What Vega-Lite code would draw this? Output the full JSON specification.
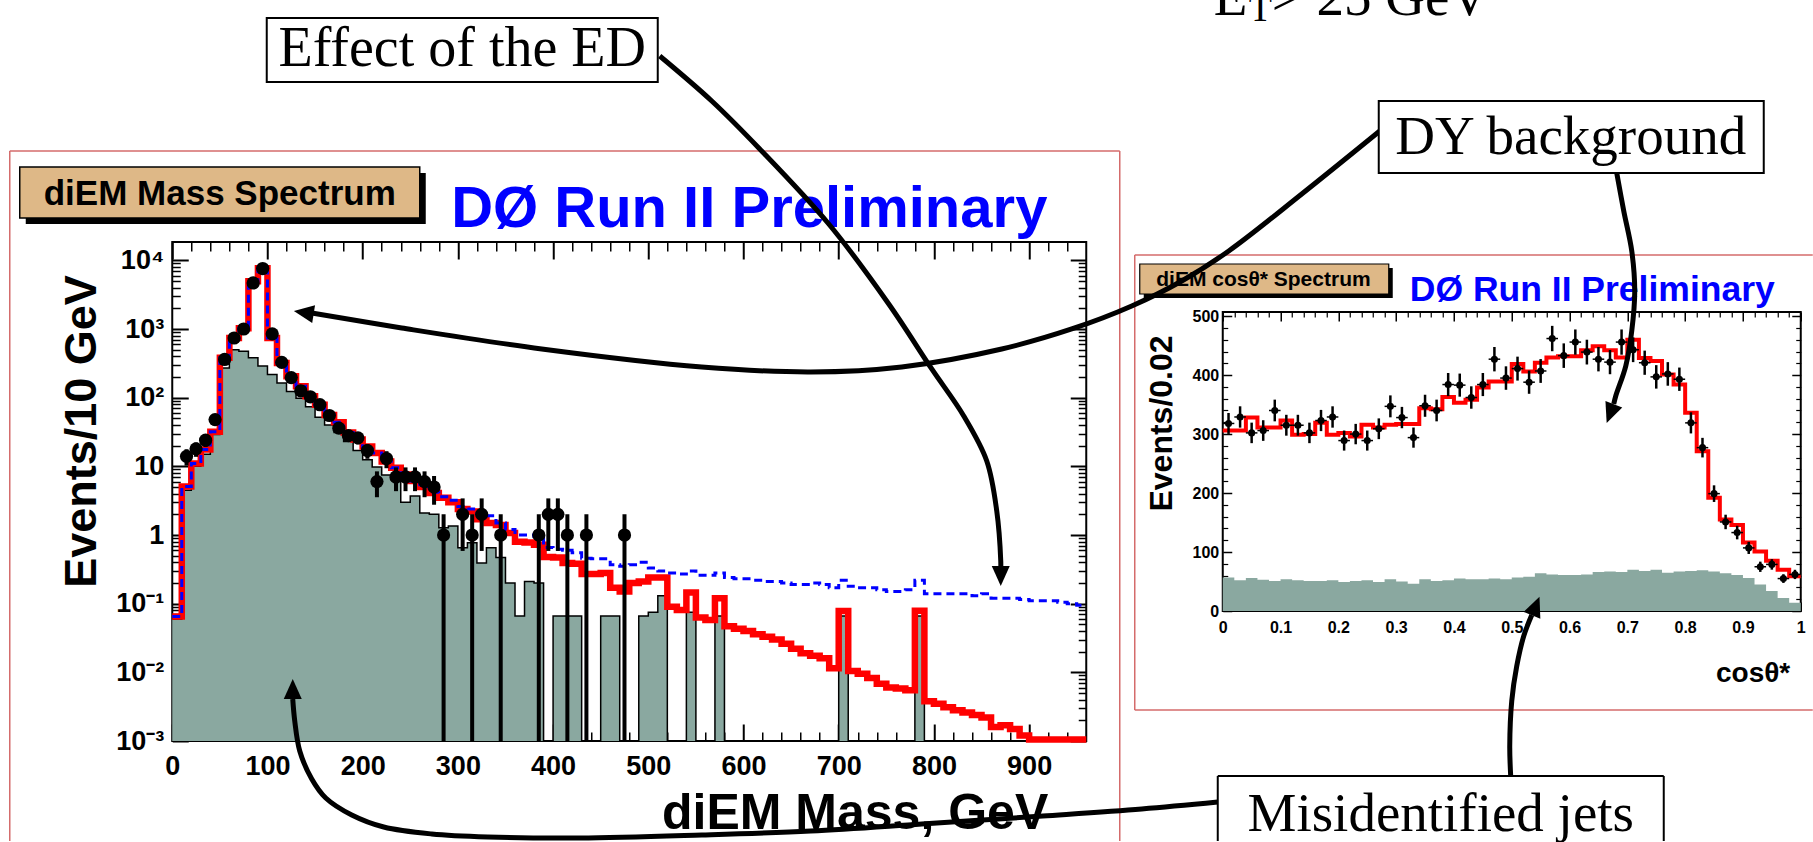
{
"$schema": "https://vega.github.io/schema/vega-lite/v6.json",
"padding": {"left": 7.25, "top": -30, "right": 0, "bottom": 0},
"bounds": "flush",
"spacing": 136.5,
"config": {
  "view": {"stroke": "black", "strokeWidth": 2},
  "font": "Liberation Sans",
  "axis": {"grid": false, "domain": false, "labelFont": "Liberation Sans", "labelFontWeight": "bold", "labelColor": "black", "titleFont": "Liberation Sans", "titleFontWeight": "bold", "titleColor": "black", "tickColor": "black", "labelFlush": false, "labelOverlap": false}
},
"datasets": {
"mass": [
{"m":0,"sm":0.065,"ed":0.065,"jets":0.06},
{"m":10,"sm":5.1,"ed":5.1,"jets":4.5},
{"m":20,"sm":11,"ed":11,"jets":10},
{"m":30,"sm":17.6,"ed":17.6,"jets":15},
{"m":40,"sm":32,"ed":32,"jets":29},
{"m":50,"sm":380,"ed":380,"jets":270},
{"m":60,"sm":740,"ed":740,"jets":500},
{"m":70,"sm":1030,"ed":1030,"jets":475},
{"m":80,"sm":4950,"ed":4950,"jets":380},
{"m":90,"sm":7700,"ed":7700,"jets":290},
{"m":100,"sm":740,"ed":740,"jets":217},
{"m":110,"sm":320,"ed":320,"jets":163},
{"m":120,"sm":205,"ed":205,"jets":123},
{"m":130,"sm":147,"ed":147,"jets":98},
{"m":140,"sm":105,"ed":105,"jets":74},
{"m":150,"sm":79,"ed":79,"jets":52},
{"m":160,"sm":56,"ed":56,"jets":40},
{"m":170,"sm":44,"ed":44,"jets":31},
{"m":180,"sm":31,"ed":31,"jets":23},
{"m":190,"sm":24.5,"ed":24.5,"jets":17},
{"m":200,"sm":19.5,"ed":19.5,"jets":12.5},
{"m":210,"sm":15.7,"ed":15.7,"jets":9.8},
{"m":220,"sm":11.8,"ed":11.8,"jets":7.5},
{"m":230,"sm":9.5,"ed":9.5,"jets":6.4},
{"m":240,"sm":7.6,"ed":7.6,"jets":3.0},
{"m":250,"sm":6.1,"ed":6.1,"jets":3.7},
{"m":260,"sm":5.0,"ed":5.1,"jets":2.1},
{"m":270,"sm":4.1,"ed":4.2,"jets":2.0},
{"m":280,"sm":3.5,"ed":3.6,"jets":1.28},
{"m":290,"sm":3.0,"ed":3.2,"jets":1.35},
{"m":300,"sm":2.4,"ed":2.6,"jets":0.65},
{"m":310,"sm":2.2,"ed":2.4,"jets":0.77},
{"m":320,"sm":1.7,"ed":2.0,"jets":0.39},
{"m":330,"sm":1.5,"ed":1.9,"jets":0.65},
{"m":340,"sm":1.4,"ed":1.5,"jets":0.47},
{"m":350,"sm":1.07,"ed":1.2,"jets":0.2},
{"m":360,"sm":0.8,"ed":1.0,"jets":0.066},
{"m":370,"sm":0.78,"ed":1.0,"jets":0.21},
{"m":380,"sm":0.72,"ed":0.95,"jets":0.2},
{"m":390,"sm":0.48,"ed":0.66,"jets":0},
{"m":400,"sm":0.47,"ed":0.62,"jets":0.066},
{"m":410,"sm":0.39,"ed":0.6,"jets":0.066},
{"m":420,"sm":0.38,"ed":0.55,"jets":0.066},
{"m":430,"sm":0.27,"ed":0.46,"jets":0},
{"m":440,"sm":0.27,"ed":0.45,"jets":0},
{"m":450,"sm":0.28,"ed":0.45,"jets":0.066},
{"m":460,"sm":0.17,"ed":0.37,"jets":0.066},
{"m":470,"sm":0.15,"ed":0.35,"jets":0},
{"m":480,"sm":0.2,"ed":0.37,"jets":0},
{"m":490,"sm":0.21,"ed":0.4,"jets":0.066},
{"m":500,"sm":0.24,"ed":0.33,"jets":0.075},
{"m":510,"sm":0.24,"ed":0.3,"jets":0.13},
{"m":520,"sm":0.09,"ed":0.28,"jets":0},
{"m":530,"sm":0.081,"ed":0.27,"jets":0},
{"m":540,"sm":0.145,"ed":0.3,"jets":0.075},
{"m":550,"sm":0.063,"ed":0.26,"jets":0},
{"m":560,"sm":0.058,"ed":0.26,"jets":0},
{"m":570,"sm":0.12,"ed":0.28,"jets":0.066},
{"m":580,"sm":0.047,"ed":0.24,"jets":0},
{"m":590,"sm":0.043,"ed":0.23,"jets":0},
{"m":600,"sm":0.04,"ed":0.23,"jets":0},
{"m":610,"sm":0.036,"ed":0.22,"jets":0},
{"m":620,"sm":0.033,"ed":0.21,"jets":0},
{"m":630,"sm":0.03,"ed":0.21,"jets":0},
{"m":640,"sm":0.026,"ed":0.2,"jets":0},
{"m":650,"sm":0.022,"ed":0.19,"jets":0},
{"m":660,"sm":0.019,"ed":0.19,"jets":0},
{"m":670,"sm":0.0175,"ed":0.2,"jets":0},
{"m":680,"sm":0.016,"ed":0.19,"jets":0},
{"m":690,"sm":0.0115,"ed":0.17,"jets":0},
{"m":700,"sm":0.078,"ed":0.22,"jets":0.066},
{"m":710,"sm":0.0105,"ed":0.18,"jets":0},
{"m":720,"sm":0.0095,"ed":0.17,"jets":0},
{"m":730,"sm":0.0083,"ed":0.17,"jets":0},
{"m":740,"sm":0.0068,"ed":0.16,"jets":0},
{"m":750,"sm":0.006,"ed":0.15,"jets":0},
{"m":760,"sm":0.0058,"ed":0.15,"jets":0},
{"m":770,"sm":0.0055,"ed":0.16,"jets":0},
{"m":780,"sm":0.079,"ed":0.22,"jets":0.066},
{"m":790,"sm":0.0038,"ed":0.14,"jets":0},
{"m":800,"sm":0.0035,"ed":0.14,"jets":0},
{"m":810,"sm":0.0031,"ed":0.14,"jets":0},
{"m":820,"sm":0.0028,"ed":0.14,"jets":0},
{"m":830,"sm":0.0026,"ed":0.14,"jets":0},
{"m":840,"sm":0.0024,"ed":0.13,"jets":0},
{"m":850,"sm":0.0022,"ed":0.14,"jets":0},
{"m":860,"sm":0.0016,"ed":0.12,"jets":0},
{"m":870,"sm":0.0017,"ed":0.12,"jets":0},
{"m":880,"sm":0.0015,"ed":0.12,"jets":0},
{"m":890,"sm":0.0012,"ed":0.115,"jets":0},
{"m":900,"sm":0.00105,"ed":0.11,"jets":0},
{"m":910,"sm":0.00105,"ed":0.11,"jets":0},
{"m":920,"sm":0.00105,"ed":0.11,"jets":0},
{"m":930,"sm":0.00105,"ed":0.105,"jets":0},
{"m":940,"sm":0.00105,"ed":0.1,"jets":0},
{"m":950,"sm":0.00105,"ed":0.095,"jets":0},
{"m":960,"sm":0.00105,"ed":0.095,"jets":0}
],
"massdata": [
{"m":15,"n":14,"lo":10.26,"hi":17.74},
{"m":25,"n":18,"lo":13.76,"hi":22.24},
{"m":35,"n":24,"lo":19.1,"hi":28.9},
{"m":45,"n":48,"lo":41.07,"hi":54.93},
{"m":55,"n":360,"lo":341,"hi":379},
{"m":65,"n":740,"lo":712.8,"hi":767.2},
{"m":75,"n":1000,"lo":968.4,"hi":1031.6},
{"m":85,"n":4680,"lo":4611.6,"hi":4748.4},
{"m":95,"n":7600,"lo":7512.8,"hi":7687.2},
{"m":105,"n":850,"lo":820.8,"hi":879.2},
{"m":115,"n":327,"lo":308.9,"hi":345.1},
{"m":125,"n":196,"lo":182,"hi":210},
{"m":135,"n":126,"lo":114.8,"hi":137.2},
{"m":145,"n":103,"lo":92.9,"hi":113.1},
{"m":155,"n":79,"lo":70.1,"hi":87.9},
{"m":165,"n":55,"lo":47.6,"hi":62.4},
{"m":175,"n":36,"lo":30,"hi":42},
{"m":185,"n":28,"lo":22.7,"hi":33.3},
{"m":195,"n":26,"lo":20.9,"hi":31.1},
{"m":205,"n":17,"lo":12.88,"hi":21.12},
{"m":215,"n":6,"lo":3.55,"hi":8.45},
{"m":225,"n":13,"lo":9.39,"hi":16.61},
{"m":235,"n":7,"lo":4.35,"hi":9.65},
{"m":245,"n":7,"lo":4.35,"hi":9.65},
{"m":255,"n":7,"lo":4.35,"hi":9.65},
{"m":265,"n":6,"lo":3.55,"hi":8.45},
{"m":275,"n":5,"lo":2.76,"hi":7.24},
{"m":285,"n":1,"lo":0,"hi":2},
{"m":305,"n":2,"lo":0.586,"hi":3.414},
{"m":315,"n":1,"lo":0,"hi":2},
{"m":325,"n":2,"lo":0.586,"hi":3.414},
{"m":345,"n":1,"lo":0,"hi":2},
{"m":385,"n":1,"lo":0,"hi":2},
{"m":395,"n":2,"lo":0.586,"hi":3.414},
{"m":405,"n":2,"lo":0.586,"hi":3.414},
{"m":415,"n":1,"lo":0,"hi":2},
{"m":435,"n":1,"lo":0,"hi":2},
{"m":475,"n":1,"lo":0,"hi":2}
],
"cos": [
{"c":0,"sm":306,"jets":57},{"c":0.02,"sm":306,"jets":52},{"c":0.04,"sm":328,"jets":56},{"c":0.06,"sm":311,"jets":53},{"c":0.08,"sm":311,"jets":51},
{"c":0.1,"sm":323,"jets":54},{"c":0.12,"sm":299,"jets":52},{"c":0.14,"sm":300,"jets":51},{"c":0.16,"sm":319,"jets":51},{"c":0.18,"sm":299,"jets":52},
{"c":0.2,"sm":302,"jets":49},{"c":0.22,"sm":296,"jets":51},{"c":0.24,"sm":316,"jets":52},{"c":0.26,"sm":311,"jets":49},{"c":0.28,"sm":316,"jets":54},
{"c":0.3,"sm":317,"jets":50},{"c":0.32,"sm":317,"jets":46},{"c":0.34,"sm":344,"jets":54},{"c":0.36,"sm":342,"jets":51},{"c":0.38,"sm":363,"jets":52},
{"c":0.4,"sm":353,"jets":55},{"c":0.42,"sm":358,"jets":54},{"c":0.44,"sm":379,"jets":54},{"c":0.46,"sm":389,"jets":55},{"c":0.48,"sm":389,"jets":54},
{"c":0.5,"sm":419,"jets":57},{"c":0.52,"sm":406,"jets":58},{"c":0.54,"sm":421,"jets":64},{"c":0.56,"sm":430,"jets":62},{"c":0.58,"sm":432,"jets":61},
{"c":0.6,"sm":432,"jets":61},{"c":0.62,"sm":442,"jets":62},{"c":0.64,"sm":449,"jets":66},{"c":0.66,"sm":442,"jets":67},{"c":0.68,"sm":430,"jets":66},
{"c":0.7,"sm":460,"jets":70},{"c":0.72,"sm":429,"jets":68},{"c":0.74,"sm":424,"jets":70},{"c":0.76,"sm":401,"jets":65},{"c":0.78,"sm":384,"jets":67},
{"c":0.8,"sm":336,"jets":68},{"c":0.82,"sm":271,"jets":69},{"c":0.84,"sm":192,"jets":67},{"c":0.86,"sm":155,"jets":64},{"c":0.88,"sm":146,"jets":61},
{"c":0.9,"sm":116,"jets":56},{"c":0.92,"sm":101,"jets":45},{"c":0.94,"sm":85,"jets":34},{"c":0.96,"sm":70,"jets":22},{"c":0.98,"sm":59,"jets":14},
{"c":1.0,"sm":59,"jets":14}
],
"cosdata": [
{"c":0.01,"c0":0,"c1":0.02,"n":318,"lo":300.2,"hi":335.8},
{"c":0.03,"c0":0.02,"c1":0.04,"n":329,"lo":310.9,"hi":347.1},
{"c":0.05,"c0":0.04,"c1":0.06,"n":302,"lo":284.6,"hi":319.4},
{"c":0.07,"c0":0.06,"c1":0.08,"n":306,"lo":288.5,"hi":323.5},
{"c":0.09,"c0":0.08,"c1":0.1,"n":340,"lo":321.6,"hi":358.4},
{"c":0.11,"c0":0.1,"c1":0.12,"n":315,"lo":297.3,"hi":332.7},
{"c":0.13,"c0":0.12,"c1":0.14,"n":315,"lo":297.3,"hi":332.7},
{"c":0.15,"c0":0.14,"c1":0.16,"n":302,"lo":284.6,"hi":319.4},
{"c":0.17,"c0":0.16,"c1":0.18,"n":323,"lo":305.0,"hi":341.0},
{"c":0.19,"c0":0.18,"c1":0.2,"n":329,"lo":310.9,"hi":347.1},
{"c":0.21,"c0":0.2,"c1":0.22,"n":289,"lo":272.0,"hi":306.0},
{"c":0.23,"c0":0.22,"c1":0.24,"n":300,"lo":282.7,"hi":317.3},
{"c":0.25,"c0":0.24,"c1":0.26,"n":289,"lo":272.0,"hi":306.0},
{"c":0.27,"c0":0.26,"c1":0.28,"n":309,"lo":291.4,"hi":326.6},
{"c":0.29,"c0":0.28,"c1":0.3,"n":347,"lo":328.4,"hi":365.6},
{"c":0.31,"c0":0.3,"c1":0.32,"n":328,"lo":309.9,"hi":346.1},
{"c":0.33,"c0":0.32,"c1":0.34,"n":294,"lo":276.9,"hi":311.1},
{"c":0.35,"c0":0.34,"c1":0.36,"n":348,"lo":329.3,"hi":366.7},
{"c":0.37,"c0":0.36,"c1":0.38,"n":340,"lo":321.6,"hi":358.4},
{"c":0.39,"c0":0.38,"c1":0.4,"n":384,"lo":364.4,"hi":403.6},
{"c":0.41,"c0":0.4,"c1":0.42,"n":383,"lo":363.4,"hi":402.6},
{"c":0.43,"c0":0.42,"c1":0.44,"n":362,"lo":343.0,"hi":381.0},
{"c":0.45,"c0":0.44,"c1":0.46,"n":384,"lo":364.4,"hi":403.6},
{"c":0.47,"c0":0.46,"c1":0.48,"n":427,"lo":406.3,"hi":447.7},
{"c":0.49,"c0":0.48,"c1":0.5,"n":395,"lo":375.1,"hi":414.9},
{"c":0.51,"c0":0.5,"c1":0.52,"n":411,"lo":390.7,"hi":431.3},
{"c":0.53,"c0":0.52,"c1":0.54,"n":388,"lo":368.3,"hi":407.7},
{"c":0.55,"c0":0.54,"c1":0.56,"n":407,"lo":386.8,"hi":427.2},
{"c":0.57,"c0":0.56,"c1":0.58,"n":462,"lo":440.5,"hi":483.5},
{"c":0.59,"c0":0.58,"c1":0.6,"n":433,"lo":412.2,"hi":453.8},
{"c":0.61,"c0":0.6,"c1":0.62,"n":456,"lo":434.6,"hi":477.4},
{"c":0.63,"c0":0.62,"c1":0.64,"n":439,"lo":418.0,"hi":460.0},
{"c":0.65,"c0":0.64,"c1":0.66,"n":427,"lo":406.3,"hi":447.7},
{"c":0.67,"c0":0.66,"c1":0.68,"n":422,"lo":401.5,"hi":442.5},
{"c":0.69,"c0":0.68,"c1":0.7,"n":456,"lo":434.6,"hi":477.4},
{"c":0.71,"c0":0.7,"c1":0.72,"n":443,"lo":422.0,"hi":464.0},
{"c":0.73,"c0":0.72,"c1":0.74,"n":421,"lo":400.5,"hi":441.5},
{"c":0.75,"c0":0.74,"c1":0.76,"n":397,"lo":377.1,"hi":416.9},
{"c":0.77,"c0":0.76,"c1":0.78,"n":402,"lo":382.0,"hi":422.0},
{"c":0.79,"c0":0.78,"c1":0.8,"n":393,"lo":373.2,"hi":412.8},
{"c":0.81,"c0":0.8,"c1":0.82,"n":319,"lo":301.1,"hi":336.9},
{"c":0.83,"c0":0.82,"c1":0.84,"n":277,"lo":260.4,"hi":293.6},
{"c":0.85,"c0":0.84,"c1":0.86,"n":199,"lo":184.9,"hi":213.1},
{"c":0.87,"c0":0.86,"c1":0.88,"n":151,"lo":138.7,"hi":163.3},
{"c":0.89,"c0":0.88,"c1":0.9,"n":133,"lo":121.5,"hi":144.5},
{"c":0.91,"c0":0.9,"c1":0.92,"n":107,"lo":96.7,"hi":117.3},
{"c":0.93,"c0":0.92,"c1":0.94,"n":75,"lo":66.3,"hi":83.7},
{"c":0.95,"c0":0.94,"c1":0.96,"n":79,"lo":70.1,"hi":87.9},
{"c":0.97,"c0":0.96,"c1":0.98,"n":55,"lo":47.6,"hi":62.4},
{"c":0.99,"c0":0.98,"c1":1.0,"n":62,"lo":54.1,"hi":69.9}
],
"arrows": [
{"a":1,"i":0,"c":-0.97405,"v":941.1},{"a":1,"i":1,"c":-0.88408,"v":864.8},{"a":1,"i":2,"c":-0.80104,"v":783.4},{"a":1,"i":3,"c":-0.68166,"v":656.2},{"a":1,"i":4,"c":-0.57785,"v":520.6},{"a":1,"i":5,"c":-0.50346,"v":410.4},{"a":1,"i":6,"c":-0.4481,"v":330.7},{"a":1,"i":7,"c":-0.4083,"v":254.4},{"a":1,"i":8,"c":-0.391,"v":169.6},{"a":1,"i":9,"c":-0.38408,"v":84.8},{"a":1,"i":10,"c":-0.38408,"v":71.2},
{"a":2,"i":0,"c":0.27163,"v":813.9},{"a":2,"i":1,"c":0.13668,"v":707.1},{"a":2,"i":2,"c":0.01038,"v":610.5},{"a":2,"i":3,"c":-0.07093,"v":559.6},{"a":2,"i":4,"c":-0.15744,"v":517.2},{"a":2,"i":5,"c":-0.26125,"v":478.2},{"a":2,"i":6,"c":-0.38235,"v":444.3},{"a":2,"i":7,"c":-0.55536,"v":413.8},{"a":2,"i":8,"c":-0.7128,"v":405.3},{"a":2,"i":9,"c":-0.90138,"v":413.8},{"a":2,"i":10,"c":-1.1782,"v":444.3},{"a":2,"i":11,"c":-1.42042,"v":479.9},{"a":2,"i":12,"c":-1.57612,"v":505.3},
{"a":3,"i":0,"c":0.68166,"v":742.7},{"a":3,"i":1,"c":0.69377,"v":678.3},{"a":3,"i":2,"c":0.70761,"v":610.5},{"a":3,"i":3,"c":0.7128,"v":542.6},{"a":3,"i":4,"c":0.70761,"v":474.8},{"a":3,"i":5,"c":0.69723,"v":415.4},{"a":3,"i":6,"c":0.67993,"v":364.6},{"a":3,"i":7,"c":0.67647,"v":351.0},
{"a":4,"i":0,"c":0.49827,"v":-281.5},{"a":4,"i":1,"c":0.49654,"v":-228.9},{"a":4,"i":2,"c":0.5,"v":-152.6},{"a":4,"i":3,"c":0.50865,"v":-93.3},{"a":4,"i":4,"c":0.52076,"v":-42.4},{"a":4,"i":5,"c":0.5346,"v":-6.8},
{"a":5,"i":0,"c":-0.00865,"v":-323.9},{"a":5,"i":1,"c":-0.14014,"v":-335.7},{"a":5,"i":2,"c":-0.31142,"v":-347.6},{"a":5,"i":3,"c":-0.52076,"v":-361.2},{"a":5,"i":4,"c":-0.7128,"v":-373.1},{"a":5,"i":5,"c":-0.90138,"v":-379.8},{"a":5,"i":6,"c":-1.11246,"v":-384.9},{"a":5,"i":7,"c":-1.27163,"v":-383.2},{"a":5,"i":8,"c":-1.36851,"v":-378.1},{"a":5,"i":9,"c":-1.45156,"v":-366.3},{"a":5,"i":10,"c":-1.50692,"v":-345.9},{"a":5,"i":11,"c":-1.5519,"v":-317.1},{"a":5,"i":12,"c":-1.57612,"v":-284.9},{"a":5,"i":13,"c":-1.59689,"v":-237.4},{"a":5,"i":14,"c":-1.60554,"v":-186.5},{"a":5,"i":15,"c":-1.609,"v":-149.2}
]
},
"hconcat": [
{
 "width": 914, "height": 499,
 "data": {"name": "mass"},
 "resolve": {"axis": {"x": "independent", "y": "independent"}},
 "layer": [
  {"mark": {"type": "area", "interpolate": "step-after", "color": "#8aa8a0", "opacity": 1},
   "encoding": {
    "x": {"field": "m", "type": "quantitative", "scale": {"domain": [0, 960], "nice": false, "zero": false},
      "axis": {"orient": "bottom", "values": [0,100,200,300,400,500,600,700,800,900], "ticks": false, "tickSize": 0, "labelPadding": 12, "labelFontSize": 27, "title": "diEM Mass, GeV", "titleFontSize": 50, "titleX": 875.5, "titleY": 87, "titleAlign": "right", "titleBaseline": "alphabetic"}},
    "y": {"field": "jets", "type": "quantitative", "scale": {"type": "log", "domain": [0.001, 18500], "nice": false, "clamp": true},
      "axis": {"orient": "left", "values": [0.001,0.01,0.1,1,10,100,1000,10000], "ticks": false, "tickSize": 0, "labelPadding": 8.5, "labelFontSize": 27,
        "labelExpr": "datum.value < 0.005 ? '10⁻³' : datum.value < 0.05 ? '10⁻²' : datum.value < 0.5 ? '10⁻¹' : datum.value < 5 ? '1' : datum.value < 50 ? '10' : datum.value < 500 ? '10²' : datum.value < 5000 ? '10³' : '10⁴'",
        "title": "Events/10 GeV", "titleFontSize": 45, "titleX": -77, "titleY": 189, "titleAngle": 270, "titleAlign": "center", "titleBaseline": "alphabetic"}},
    "y2": {"datum": 0.001}
   }},
  {"mark": {"type": "line", "interpolate": "step-after", "color": "black", "strokeWidth": 1.5},
   "encoding": {
    "x": {"field": "m", "type": "quantitative", "scale": {"domain": [0, 960], "nice": false, "zero": false},
      "axis": {"orient": "bottom", "values": [0,100,200,300,400,500,600,700,800,900], "labels": false, "tickSize": -17, "tickWidth": 2, "title": null}},
    "y": {"field": "jets", "type": "quantitative", "scale": {"type": "log", "domain": [0.001, 18500], "nice": false, "clamp": true},
      "axis": {"orient": "left", "values": [0.001,0.01,0.1,1,10,100,1000,10000], "labels": false, "tickSize": -16, "tickWidth": 2, "title": null}}
   }},
  {"mark": {"type": "line", "interpolate": "step-after", "color": "#ff0000", "strokeWidth": 6.5},
   "encoding": {
    "x": {"field": "m", "type": "quantitative", "scale": {"domain": [0, 960], "nice": false, "zero": false},
      "axis": {"orient": "bottom", "values": [20,40,60,80,120,140,160,180,220,240,260,280,320,340,360,380,420,440,460,480,520,540,560,580,620,640,660,680,720,740,760,780,820,840,860,880,920,940], "labels": false, "tickSize": -9, "tickWidth": 1.5, "title": null}},
    "y": {"field": "sm", "type": "quantitative", "scale": {"type": "log", "domain": [0.001, 18500], "nice": false, "clamp": true},
      "axis": {"orient": "left", "values": [0.002,0.003,0.004,0.005,0.006,0.007,0.008,0.009,0.02,0.03,0.04,0.05,0.06,0.07,0.08,0.09,0.2,0.3,0.4,0.5,0.6,0.7,0.8,0.9,2,3,4,5,6,7,8,9,20,30,40,50,60,70,80,90,200,300,400,500,600,700,800,900,2000,3000,4000,5000,6000,7000,8000,9000], "labels": false, "tickSize": -8, "tickWidth": 1.5, "title": null}}
   }},
  {"mark": {"type": "line", "interpolate": "step-after", "color": "#0000ff", "strokeWidth": 3, "strokeDash": [8, 5]},
   "encoding": {
    "x": {"field": "m", "type": "quantitative", "scale": {"domain": [0, 960], "nice": false, "zero": false},
      "axis": {"orient": "top", "values": [0,100,200,300,400,500,600,700,800,900], "labels": false, "tickSize": -17, "tickWidth": 2, "title": null}},
    "y": {"field": "ed", "type": "quantitative", "scale": {"type": "log", "domain": [0.001, 18500], "nice": false, "clamp": true},
      "axis": {"orient": "right", "values": [0.001,0.01,0.1,1,10,100,1000,10000], "labels": false, "tickSize": -16, "tickWidth": 2, "title": null}}
   }},
  {"data": {"name": "massdata"},
   "mark": {"type": "rule", "color": "black", "strokeWidth": 4},
   "encoding": {
    "x": {"field": "m", "type": "quantitative", "scale": {"domain": [0, 960], "nice": false, "zero": false},
      "axis": {"orient": "top", "values": [20,40,60,80,120,140,160,180,220,240,260,280,320,340,360,380,420,440,460,480,520,540,560,580,620,640,660,680,720,740,760,780,820,840,860,880,920,940], "labels": false, "tickSize": -9, "tickWidth": 1.5, "title": null}},
    "y": {"field": "lo", "type": "quantitative", "scale": {"type": "log", "domain": [0.001, 18500], "nice": false, "clamp": true},
      "axis": {"orient": "right", "values": [0.002,0.003,0.004,0.005,0.006,0.007,0.008,0.009,0.02,0.03,0.04,0.05,0.06,0.07,0.08,0.09,0.2,0.3,0.4,0.5,0.6,0.7,0.8,0.9,2,3,4,5,6,7,8,9,20,30,40,50,60,70,80,90,200,300,400,500,600,700,800,900,2000,3000,4000,5000,6000,7000,8000,9000], "labels": false, "tickSize": -8, "tickWidth": 1.5, "title": null}},
    "y2": {"field": "hi"}
   }},
  {"data": {"name": "massdata"},
   "mark": {"type": "circle", "color": "black", "opacity": 1, "size": 175},
   "encoding": {
    "x": {"field": "m", "type": "quantitative", "axis": null},
    "y": {"field": "n", "type": "quantitative", "axis": null}
   }}
 ]
},
{
 "bounds": "flush",
 "spacing": 10,
 "vconcat": [
  {"width": 578, "height": 60, "view": {"stroke": null}, "data": {"values": [{}]}, "mark": {"type": "text", "text": " "}, "encoding": {}},
  {
   "width": 578, "height": 299,
   "data": {"name": "cos"},
   "resolve": {"axis": {"x": "independent", "y": "independent"}},
   "layer": [
    {"mark": {"type": "area", "interpolate": "step-after", "color": "#8aa8a0", "opacity": 1},
     "encoding": {
      "x": {"field": "c", "type": "quantitative", "scale": {"domain": [0, 1], "nice": false, "zero": false},
        "axis": {"orient": "bottom", "values": [0,0.1,0.2,0.3,0.4,0.5,0.6,0.7,0.8,0.9,1], "format": "~g", "ticks": false, "tickSize": 0, "labelPadding": 8, "labelFontSize": 16, "title": "cosθ*", "titleFontSize": 28, "titleX": 567, "titleY": 70, "titleAlign": "right", "titleBaseline": "alphabetic"}},
      "y": {"field": "jets", "type": "quantitative", "scale": {"domain": [0, 507], "nice": false, "zero": false},
        "axis": {"orient": "left", "values": [0,100,200,300,400,500], "ticks": false, "tickSize": 0, "labelPadding": 4, "labelFontSize": 16, "title": "Events/0.02", "titleFontSize": 32, "titleX": -51, "titleY": 111, "titleAngle": 270, "titleAlign": "center", "titleBaseline": "alphabetic"}},
      "y2": {"datum": 0}
     }},
    {"mark": {"type": "line", "interpolate": "step-after", "color": "#ff0000", "strokeWidth": 4},
     "encoding": {
      "x": {"field": "c", "type": "quantitative", "axis": {"orient": "bottom", "values": [0,0.1,0.2,0.3,0.4,0.5,0.6,0.7,0.8,0.9,1], "labels": false, "tickSize": -9, "tickWidth": 1.5, "title": null}},
      "y": {"field": "sm", "type": "quantitative", "axis": {"orient": "left", "values": [0,100,200,300,400,500], "labels": false, "tickSize": -9, "tickWidth": 1.5, "title": null}}
     }},
    {"data": {"name": "cosdata"},
     "mark": {"type": "rule", "color": "black", "strokeWidth": 2.5},
     "encoding": {
      "x": {"field": "c", "type": "quantitative", "axis": {"orient": "bottom", "values": [0.02,0.04,0.06,0.08,0.12,0.14,0.16,0.18,0.22,0.24,0.26,0.28,0.32,0.34,0.36,0.38,0.42,0.44,0.46,0.48,0.52,0.54,0.56,0.58,0.62,0.64,0.66,0.68,0.72,0.74,0.76,0.78,0.82,0.84,0.86,0.88,0.92,0.94,0.96,0.98], "labels": false, "tickSize": -5, "tickWidth": 1.2, "title": null}},
      "y": {"field": "lo", "type": "quantitative", "axis": {"orient": "left", "values": [20,40,60,80,120,140,160,180,220,240,260,280,320,340,360,380,420,440,460,480], "labels": false, "tickSize": -5, "tickWidth": 1.2, "title": null}},
      "y2": {"field": "hi"}
     }},
    {"data": {"name": "cosdata"},
     "mark": {"type": "rule", "color": "black", "strokeWidth": 1.5},
     "encoding": {
      "x": {"field": "c0", "type": "quantitative", "axis": {"orient": "top", "values": [0,0.1,0.2,0.3,0.4,0.5,0.6,0.7,0.8,0.9,1], "labels": false, "tickSize": -9, "tickWidth": 1.5, "title": null}},
      "x2": {"field": "c1"},
      "y": {"field": "n", "type": "quantitative", "axis": {"orient": "right", "values": [0,100,200,300,400,500], "labels": false, "tickSize": -9, "tickWidth": 1.5, "title": null}}
     }},
    {"data": {"name": "cosdata"},
     "mark": {"type": "circle", "color": "black", "opacity": 1, "size": 50},
     "encoding": {
      "x": {"field": "c", "type": "quantitative", "axis": {"orient": "top", "values": [0.02,0.04,0.06,0.08,0.12,0.14,0.16,0.18,0.22,0.24,0.26,0.28,0.32,0.34,0.36,0.38,0.42,0.44,0.46,0.48,0.52,0.54,0.56,0.58,0.62,0.64,0.66,0.68,0.72,0.74,0.76,0.78,0.82,0.84,0.86,0.88,0.92,0.94,0.96,0.98], "labels": false, "tickSize": -5, "tickWidth": 1.2, "title": null}},
      "y": {"field": "n", "type": "quantitative", "axis": {"orient": "right", "values": [20,40,60,80,120,140,160,180,220,240,260,280,320,340,360,380,420,440,460,480], "labels": false, "tickSize": -5, "tickWidth": 1.2, "title": null}}
     }},

    {"data": {"values": [{}]}, "mark": {"type": "rule", "color": "#d46b6b", "strokeWidth": 1.5}, "encoding": {"x": {"datum": -2.0986, "axis": null}, "y": {"datum": 780.0, "axis": null}, "x2": {"datum": -2.0986}, "y2": {"datum": -390.0}}},
    {"data": {"values": [{}]}, "mark": {"type": "rule", "color": "#d46b6b", "strokeWidth": 1.5}, "encoding": {"x": {"datum": -2.0986, "axis": null}, "y": {"datum": 780.0, "axis": null}, "x2": {"datum": -0.1782}, "y2": {"datum": 780.0}}},
    {"data": {"values": [{}]}, "mark": {"type": "rule", "color": "#d46b6b", "strokeWidth": 1.5}, "encoding": {"x": {"datum": -0.1782, "axis": null}, "y": {"datum": 780.0, "axis": null}, "x2": {"datum": -0.1782}, "y2": {"datum": -390.0}}},
    {"data": {"values": [{}]}, "mark": {"type": "rule", "color": "#d46b6b", "strokeWidth": 1.5}, "encoding": {"x": {"datum": -0.15225, "axis": null}, "y": {"datum": 603.7, "axis": null}, "x2": {"datum": 1.02076}, "y2": {"datum": 603.7}}},
    {"data": {"values": [{}]}, "mark": {"type": "rule", "color": "#d46b6b", "strokeWidth": 1.5}, "encoding": {"x": {"datum": -0.15225, "axis": null}, "y": {"datum": 603.7, "axis": null}, "x2": {"datum": -0.15225}, "y2": {"datum": -167.9}}},
    {"data": {"values": [{}]}, "mark": {"type": "rule", "color": "#d46b6b", "strokeWidth": 1.5}, "encoding": {"x": {"datum": -0.15225, "axis": null}, "y": {"datum": -167.9, "axis": null}, "x2": {"datum": 1.02076}, "y2": {"datum": -167.9}}},

    {"data": {"values": [{}]}, "mark": {"type": "rect", "fill": "black"}, "encoding": {"x": {"datum": -2.07093, "axis": null}, "x2": {"datum": -1.37889}, "y": {"datum": 742.7, "axis": null}, "y2": {"datum": 656.2}}},
    {"data": {"values": [{}]}, "mark": {"type": "rect", "fill": "#deb887", "stroke": "black", "strokeWidth": 1.5}, "encoding": {"x": {"datum": -2.08131, "axis": null}, "x2": {"datum": -1.38927}, "y": {"datum": 752.9, "axis": null}, "y2": {"datum": 666.4}}},
    {"data": {"values": [{}]}, "mark": {"type": "text", "text": "diEM Mass Spectrum", "font": "Liberation Sans", "fontWeight": "bold", "fontSize": 35, "color": "black", "align": "center", "baseline": "alphabetic"}, "encoding": {"x": {"datum": -1.73529, "axis": null}, "y": {"datum": 688.5, "axis": null}}},
    {"data": {"values": [{}]}, "mark": {"type": "text", "text": "DØ Run II Preliminary", "font": "Liberation Sans", "fontWeight": "bold", "fontSize": 58, "color": "#0000ff", "align": "center", "baseline": "alphabetic"}, "encoding": {"x": {"datum": -0.8192, "axis": null}, "y": {"datum": 651.1, "axis": null}}},
    {"data": {"values": [{}]}, "mark": {"type": "rect", "fill": "black"}, "encoding": {"x": {"datum": -0.13668, "axis": null}, "x2": {"datum": 0.29412}, "y": {"datum": 581.6, "axis": null}, "y2": {"datum": 530.8}}},
    {"data": {"values": [{}]}, "mark": {"type": "rect", "fill": "#deb887", "stroke": "black", "strokeWidth": 1.2}, "encoding": {"x": {"datum": -0.1436, "axis": null}, "x2": {"datum": 0.2872}, "y": {"datum": 588.4, "axis": null}, "y2": {"datum": 537.5}}},
    {"data": {"values": [{}]}, "mark": {"type": "text", "text": "diEM cosθ* Spectrum", "font": "Liberation Sans", "fontWeight": "bold", "fontSize": 21, "color": "black", "align": "center", "baseline": "alphabetic"}, "encoding": {"x": {"datum": 0.07042, "axis": null}, "y": {"datum": 551.1, "axis": null}}},
    {"data": {"values": [{}]}, "mark": {"type": "text", "text": "DØ Run II Preliminary", "font": "Liberation Sans", "fontWeight": "bold", "fontSize": 35.5, "color": "#0000ff", "align": "center", "baseline": "alphabetic"}, "encoding": {"x": {"datum": 0.63927, "axis": null}, "y": {"datum": 525.7, "axis": null}}},

    {"data": {"name": "arrows"}, "mark": {"type": "line", "interpolate": "catmull-rom", "color": "black", "strokeWidth": 5},
     "encoding": {"x": {"field": "c", "type": "quantitative", "axis": null}, "y": {"field": "v", "type": "quantitative", "axis": null}, "detail": {"field": "a"}, "order": {"field": "i"}}},
    {"data": {"values": [{}]}, "mark": {"type": "point", "shape": "M0,-1L0.9,1L-0.9,1Z", "filled": true, "color": "black", "opacity": 1, "size": 400, "angle": 180}, "encoding": {"x": {"datum": -0.38408, "axis": null}, "y": {"datum": 59.3, "axis": null}}},
    {"data": {"values": [{}]}, "mark": {"type": "point", "shape": "M0,-1L0.9,1L-0.9,1Z", "filled": true, "color": "black", "opacity": 1, "size": 400, "angle": 279}, "encoding": {"x": {"datum": -1.58997, "axis": null}, "y": {"datum": 506.0, "axis": null}}},
    {"data": {"values": [{}]}, "mark": {"type": "point", "shape": "M0,-1L0.9,1L-0.9,1Z", "filled": true, "color": "black", "opacity": 1, "size": 400, "angle": 201}, "encoding": {"x": {"datum": 0.67042, "axis": null}, "y": {"datum": 334.7, "axis": null}}},
    {"data": {"values": [{}]}, "mark": {"type": "point", "shape": "M0,-1L0.9,1L-0.9,1Z", "filled": true, "color": "black", "opacity": 1, "size": 400, "angle": 22}, "encoding": {"x": {"datum": 0.54152, "axis": null}, "y": {"datum": 8.5, "axis": null}}},
    {"data": {"values": [{}]}, "mark": {"type": "point", "shape": "M0,-1L0.9,1L-0.9,1Z", "filled": true, "color": "black", "opacity": 1, "size": 400, "angle": 0}, "encoding": {"x": {"datum": -1.609, "axis": null}, "y": {"datum": -132.3, "axis": null}}},

    {"data": {"values": [{}]}, "mark": {"type": "rect", "fill": "white", "stroke": "black", "strokeWidth": 2}, "encoding": {"x": {"datum": -1.65398, "axis": null}, "x2": {"datum": -0.97751}, "y": {"datum": 1005.5, "axis": null}, "y2": {"datum": 897.0}}},
    {"data": {"values": [{}]}, "mark": {"type": "text", "text": "Effect of the ED", "font": "Liberation Serif", "fontSize": 56, "color": "black", "align": "center", "baseline": "alphabetic"}, "encoding": {"x": {"datum": -1.31574, "axis": null}, "y": {"datum": 924.2, "axis": null}}},
    {"data": {"values": [{}]}, "mark": {"type": "rect", "fill": "white", "stroke": "black", "strokeWidth": 2}, "encoding": {"x": {"datum": 0.2699, "axis": null}, "x2": {"datum": 0.93599}, "y": {"datum": 864.8, "axis": null}, "y2": {"datum": 742.7}}},
    {"data": {"values": [{}]}, "mark": {"type": "text", "text": "DY background", "font": "Liberation Serif", "fontSize": 55, "color": "black", "align": "center", "baseline": "alphabetic"}, "encoding": {"x": {"datum": 0.60208, "axis": null}, "y": {"datum": 774.9, "axis": null}}},
    {"data": {"values": [{}]}, "mark": {"type": "rect", "fill": "white"}, "encoding": {"x": {"datum": -0.00865, "axis": null}, "x2": {"datum": 0.76298}, "y": {"datum": -279.8, "axis": null}, "y2": {"datum": -390.0}}},
    {"data": {"values": [{}]}, "mark": {"type": "rule", "color": "black", "strokeWidth": 2}, "encoding": {"x": {"datum": -0.00865, "axis": null}, "y": {"datum": -279.8, "axis": null}, "x2": {"datum": 0.76298}, "y2": {"datum": -279.8}}},
    {"data": {"values": [{}]}, "mark": {"type": "rule", "color": "black", "strokeWidth": 2}, "encoding": {"x": {"datum": -0.00865, "axis": null}, "y": {"datum": -279.8, "axis": null}, "x2": {"datum": -0.00865}, "y2": {"datum": -390.0}}},
    {"data": {"values": [{}]}, "mark": {"type": "rule", "color": "black", "strokeWidth": 2}, "encoding": {"x": {"datum": 0.76298, "axis": null}, "y": {"datum": -279.8, "axis": null}, "x2": {"datum": 0.76298}, "y2": {"datum": -390.0}}},
    {"data": {"values": [{}]}, "mark": {"type": "text", "text": "Misidentified jets", "font": "Liberation Serif", "fontSize": 55, "color": "black", "align": "center", "baseline": "alphabetic"}, "encoding": {"x": {"datum": 0.37716, "axis": null}, "y": {"datum": -373.1, "axis": null}}},
    {"data": {"values": [{}]}, "mark": {"type": "text", "text": "E", "font": "Liberation Serif", "fontSize": 55, "color": "black", "align": "left", "baseline": "alphabetic"}, "encoding": {"x": {"datum": -0.01557, "axis": null}, "y": {"datum": 1010.6, "axis": null}}},
    {"data": {"values": [{}]}, "mark": {"type": "text", "text": "T", "font": "Liberation Serif", "fontSize": 38, "color": "black", "align": "left", "baseline": "alphabetic"}, "encoding": {"x": {"datum": 0.04498, "axis": null}, "y": {"datum": 1000.5, "axis": null}}},
    {"data": {"values": [{}]}, "mark": {"type": "text", "text": "> 25 GeV", "font": "Liberation Serif", "fontSize": 55, "color": "black", "align": "left", "baseline": "alphabetic"}, "encoding": {"x": {"datum": 0.08478, "axis": null}, "y": {"datum": 1010.6, "axis": null}}}
   ]
  }
 ]
}
]
}
